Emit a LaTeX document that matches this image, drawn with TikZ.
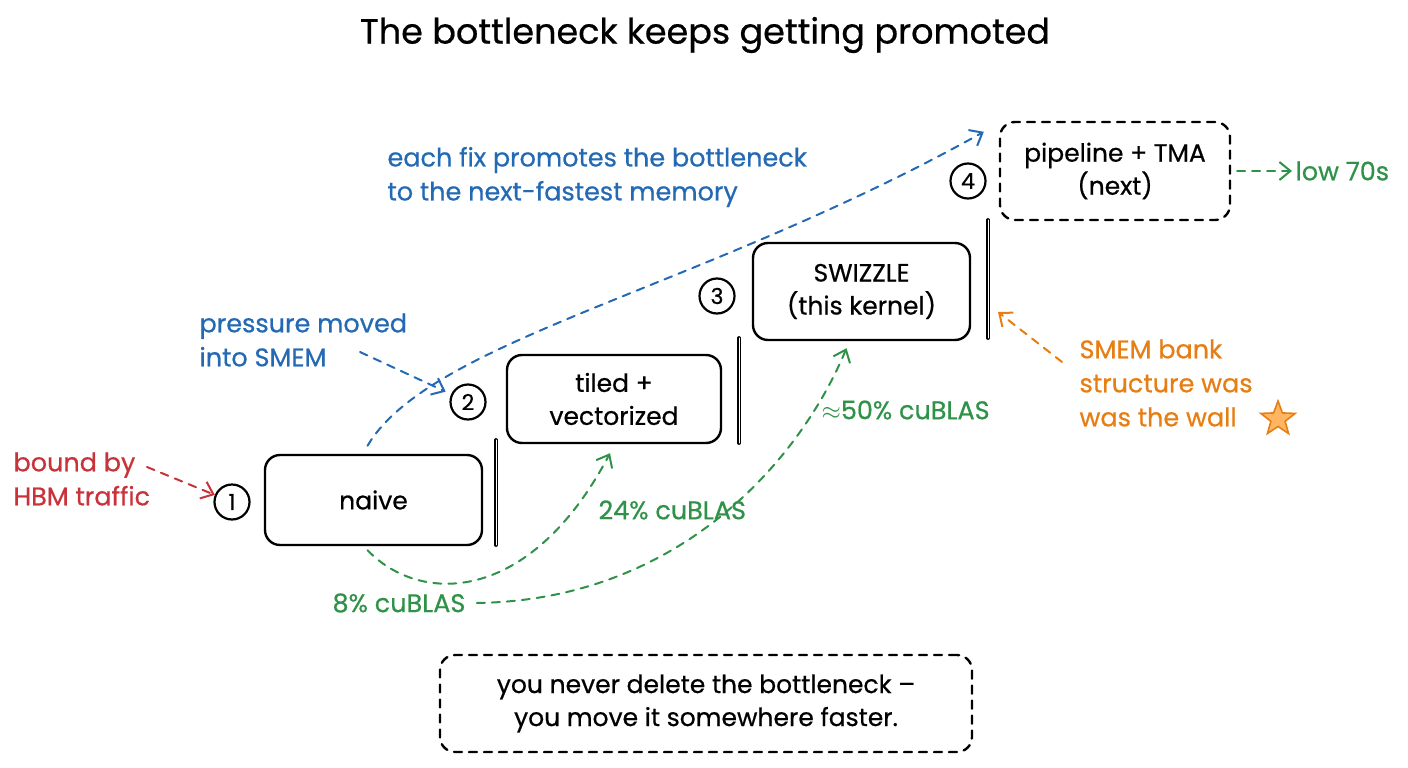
\documentclass[tikz,border=0pt]{standalone}
\usepackage{fontspec}
\usepackage{xcolor}
\usepackage{tikz}
\usetikzlibrary{arrows.meta,shapes.geometric}
\setmainfont{Poppins}[FakeBold=0.6]
\definecolor{fixblue}{HTML}{2469B3}
\definecolor{hbmred}{HTML}{C8323A}
\definecolor{perfgreen}{HTML}{2F9248}
\definecolor{wallorange}{HTML}{E67E14}
\definecolor{starfill}{HTML}{FFB562}

\begin{document}
\begin{tikzpicture}[x=1pt, y=-1pt, >={Straight Barb[length=11pt,width=18pt]}, line cap=round,
    stage/.style={draw, line width=2.4pt, rounded corners=15pt, align=center,
      font=\fontsize{25}{33}\selectfont},
    stepnum/.style={draw, circle, line width=2.2pt, minimum size=35pt, inner sep=0pt,
      font=\fontsize{22}{22}\selectfont},
    note/.style={anchor=west, align=left, font=\fontsize{25.5}{34}\selectfont},
    flow/.style={dash pattern=on 8pt off 7pt, line width=2pt},
    wall/.style={double, double distance=0.8pt, line width=1.5pt}]
  \useasboundingbox (0,0) rectangle (1408,768);
  \node[font=\fontsize{35}{35}\selectfont] (title) at (705,35) {The bottleneck keeps getting promoted};

  % stages
  \node[stage, minimum width=217pt, minimum height=90pt] (n1) at (373.5,500) {naive};
  \node[stage, minimum width=214pt, minimum height=88pt] (n2) at (614,399) {tiled +\\vectorized};
  \node[stage, minimum width=217pt, minimum height=97pt] (n3) at (861.5,291.5) {SWIZZLE\\(this kernel)};
  \node[stage, dash pattern=on 8pt off 7pt, minimum width=230pt, minimum height=98pt] (n4) at (1115,171) {pipeline + TMA\\(next)};
  \node[stepnum] (c1) at (232,502) {1};
  \node[stepnum] (c2) at (468,402) {2};
  \node[stepnum] (c3) at (717,296) {3};
  \node[stepnum] (c4) at (968,181) {4};
  \draw[wall] (496,440) -- (496,545);
  \draw[wall] (739,338) -- (739,443);
  \draw[wall] (988,220) -- (988,338);

  % notes
  \node[note, text=hbmred] (hbmnote) at (10,479) {bound by\\HBM traffic};
  \node[note, text=fixblue] (smemnote) at (196,340) {pressure moved\\into SMEM};
  \node[note, text=fixblue] (fixnote) at (384,177) {each fix promotes the bottleneck\\to the next-fastest memory};
  \node[note, text=perfgreen] (p8) at (329,603) {8\% cuBLAS};
  \node[note, text=perfgreen] (p24) at (595,510) {24\% cuBLAS};
  \node[note, text=perfgreen] (p50) at (818,410) {$\approx$50\% cuBLAS};
  \node[note, text=perfgreen] (p70) at (1292,171) {low 70s};
  \node[note, text=wallorange] (wallnote) at (1076,383) {SMEM bank\\structure was\\was the wall};
  \node[star, star points=5, star point ratio=2.4, draw=wallorange, fill=starfill, line width=1.6pt,
    minimum size=36pt, inner sep=0pt] (wallstar) at (1278,419) {};

  \node[stage, dash pattern=on 8pt off 7pt, minimum width=532pt, minimum height=97pt] (moral) at (706,703.5)
    {you never delete the bottleneck --\\you move it somewhere faster.};

  % connectors
  \coordinate (hbmtail) at (147,467);
  \coordinate (smemtail) at (360,352);
  \coordinate (walltail) at (1062,362);
  \coordinate (walltip) at (998,312);
  \draw[->, flow, hbmred] (hbmtail) -- (c1);
  \draw[->, flow, fixblue, shorten >=6pt] (smemtail) -- (c2);
  \draw[->, flow, fixblue] ([xshift=-6pt,yshift=8pt]n1.north) .. controls (430,340) and (700,290) .. ([xshift=-15pt,yshift=-11pt]n4.north west);
  \draw[->, flow, perfgreen] ([xshift=-6pt,yshift=-4pt]n1.south) .. controls (420,605) and (530,605) .. ([xshift=-4pt,yshift=-9pt]n2.south);
  \draw[->, flow, perfgreen] ([xshift=8pt]p8.east) .. controls (680,600) and (800,460) .. ([xshift=-15pt,yshift=-7pt]n3.south);
  \draw[->, flow, perfgreen] ([xshift=6pt]n4.east) -- (p70.west);
  \draw[->, flow, wallorange] (walltail) -- (walltip);
\end{tikzpicture}
\end{document}
